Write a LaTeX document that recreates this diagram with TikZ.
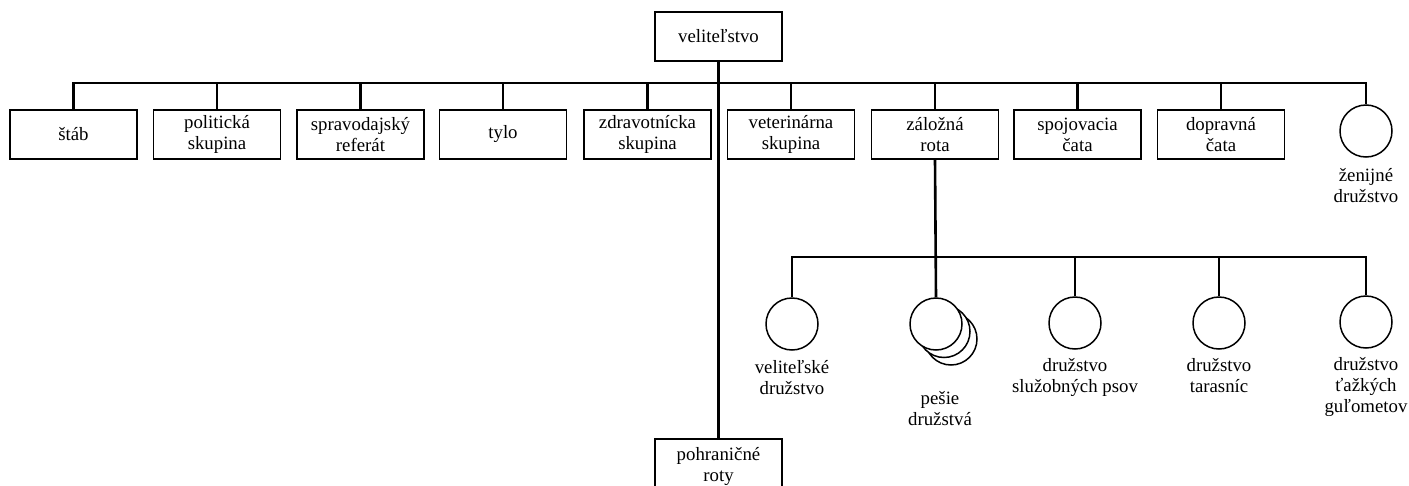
\documentclass[tikz,border=0pt]{standalone}
\usepackage{fontspec}
\setmainfont{Liberation Serif}
\newcommand{\fs}{\fontsize{18.8pt}{21pt}\selectfont}
\tikzset{
  box/.style={draw, line width=1.5pt, minimum width=127pt, minimum height=49pt, align=center, font=\fs, inner sep=2pt, fill=white},
  unit/.style={draw, circle, line width=1.5pt, minimum size=52pt, inner sep=0pt, fill=white},
  lbl/.style={align=center, font=\fs, inner sep=0pt, anchor=north},
  conn/.style={line width=2.6pt},
}
\begin{document}
\begin{tikzpicture}[x=1pt,y=-1pt]
\clip (0,0) rectangle (1409,485);
\fill[white] (0,0) rectangle (1409,485);
% coordinates of the buses
\coordinate (bus) at (718.5,83);
\coordinate (bus2) at (935,257);
% nodes
\node[box] (vel) at (718.5,36.5) {veliteľstvo};
\node[box, anchor=north, inner ysep=9pt] (pohr) at (718.5,438) {pohraničné\\roty};
\node[box] (stab) at (73.5,134.5) {štáb};
\node[box] (pol) at (217,134.5) {politická\\skupina};
\node[box] (spr) at (360.5,134.5) {spravodajský\\referát};
\node[box] (tylo) at (503,134.5) {tylo};
\node[box] (zdr) at (647.5,134.5) {zdravotnícka\\skupina};
\node[box] (vet) at (791,134.5) {veterinárna\\skupina};
\node[box] (zal) at (935,134.5) {záložná\\rota};
\node[box] (spoj) at (1077.5,134.5) {spojovacia\\čata};
\node[box] (dop) at (1221,134.5) {dopravná\\čata};
\node[unit] (zen) at (1366,131) {};
\node[lbl] (zenL) at ([yshift=-10pt]zen.south) {ženijné\\družstvo};

\node[unit] (velD) at (792,324) {};
\node[unit] (pes3) at (951,339) {};
\node[unit] (pes2) at (944,331.5) {};
\node[unit] (pes) at (936,324) {};
\node[unit] (psi) at (1075,323) {};
\node[unit] (tar) at (1219,323) {};
\node[unit] (taz) at (1366,322) {};
\coordinate (pesT) at ([yshift=-25pt]pes3.south);
\node[lbl] (velDL) at ([yshift=-9pt]velD.south) {veliteľské\\družstvo};
\node[lbl, xshift=4pt] (pesL) at (pes.south |- pesT) {pešie\\družstvá};
\node[lbl] (psiL) at ([yshift=-8pt]psi.south) {družstvo\\služobných psov};
\node[lbl] (tarL) at ([yshift=-8pt]tar.south) {družstvo\\tarasníc};
\node[lbl] (tazL) at ([yshift=-8pt]taz.south) {družstvo\\ťažkých\\guľometov};

% upper bus
\draw[conn] (stab.north) |- (bus) -| (zen.north);
\draw[conn] (vel.south) -- (pohr.north);
\foreach \n in {pol,spr,tylo,zdr,vet,zal,spoj,dop}
  \draw[conn] (\n.north) -- (\n.north |- bus);
% lower bus
\draw[conn] (zal.south) -- (pes.north);
\draw[conn] (velD.north) |- (bus2) -| (taz.north);
\foreach \n in {psi,tar}
  \draw[conn] (\n.north) -- (\n.north |- bus2);
\end{tikzpicture}
\end{document}
